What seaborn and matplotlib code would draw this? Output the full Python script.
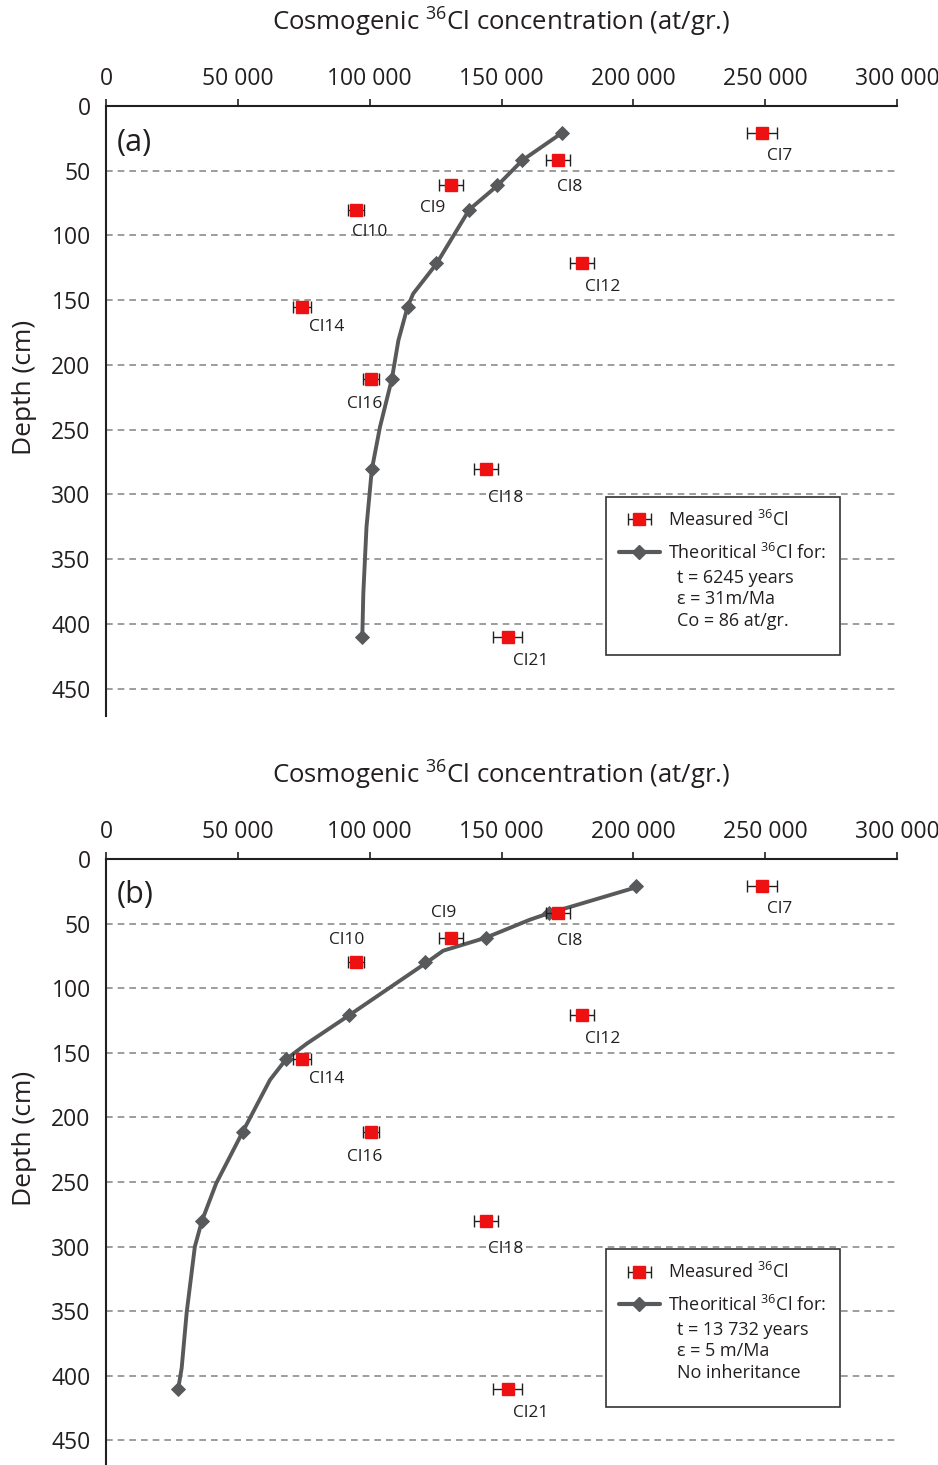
import matplotlib
matplotlib.use("Agg")
import matplotlib.pyplot as plt
import seaborn as sns
from matplotlib.lines import Line2D
from matplotlib.patches import Rectangle
from matplotlib.legend_handler import HandlerErrorbar

# Measured 36Cl samples (same in both panels)
samples = ['Cl7', 'Cl8', 'Cl9', 'Cl10', 'Cl12', 'Cl14', 'Cl16', 'Cl18', 'Cl21']
meas_depth = [21, 42, 61, 80, 121, 155, 211, 280, 410]
meas_conc = [248800, 171400, 130800, 94800, 180500, 74300, 100500, 144100, 152400]
meas_err = [5700, 4500, 4500, 3200, 4700, 3400, 2900, 4700, 5500]

# Theoretical values at sample depths (diamonds)
theo_a = [172800, 157900, 148200, 137800, 125300, 114400, 108400, 100800, 97200]
theo_b = [201000, 168000, 144000, 121000, 92200, 68300, 51900, 36400, 27300]

# Theoretical curves
curve_a_depth = [21, 42, 62, 80, 122, 145, 155, 181, 211, 248, 281, 325, 376, 410]
curve_a_conc = [172800, 157900, 148200, 137800, 125300, 116500, 114400, 110900,
                108400, 103900, 100800, 98800, 97600, 97200]
curve_b_depth = [22, 42, 47, 61, 71, 81, 121, 143, 155, 171, 211, 251, 280, 300,
                 351, 394, 411]
curve_b_conc = [201000, 168000, 160800, 144000, 127900, 121000, 92200, 76100,
                68300, 62200, 51900, 41800, 36400, 33700, 30600, 28700, 27300]

x_ticks = [0, 50000, 100000, 150000, 200000, 250000, 300000]
x_ticklabels = ['0', '50 000', '100 000', '150 000', '200 000', '250 000', '300 000']
y_ticks = [0, 50, 100, 150, 200, 250, 300, 350, 400, 450]

params_a = 't = 6245 years\nε = 31m/Ma\nCo = 86 at/gr.'
params_b = 't = 13 732 years\nε = 5 m/Ma\nNo inheritance'

# label offsets in pixels (dx, dy)
offs_a = [(18, -23), (12, -27), (-18, -23), (14, -22), (21, -24), (25, -20),
          (-6, -25), (20, -29), (23, -24)]
offs_b = [(18, -23), (12, -28), (-7, 25), (-9, 22), (21, -24), (25, -20),
          (-6, -25), (20, -28), (23, -24)]

sns.set_style("white")
plt.rcParams['font.family'] = ['Open Sans', 'DejaVu Sans']
plt.rcParams['mathtext.fontset'] = 'custom'
plt.rcParams['mathtext.rm'] = 'Open Sans'

txt = '#231f20'
gray = '#58595b'
red = '#ee1111'

fig = plt.figure(figsize=(9.38, 14.65), dpi=100)
ax_a = fig.add_axes([0.113, 0.5113, 0.8433, 0.4164])
ax_b = fig.add_axes([0.113, 0.0, 0.8433, 0.4137])

xlabel = r'Cosmogenic $\mathregular{^{36}}$Cl concentration (at/gr.)'

for ax, theo, cx, cy, offs, params, tag, ymax in [
        (ax_a, theo_a, curve_a_conc, curve_a_depth, offs_a, params_a, '(a)', 471),
        (ax_b, theo_b, curve_b_conc, curve_b_depth, offs_b, params_b, '(b)', 469)]:

    # theoretical curve
    sns.lineplot(x=cx, y=cy, sort=False, estimator=None, color=gray, lw=2.8,
                 ax=ax, zorder=3)
    sns.scatterplot(x=theo, y=meas_depth, marker='D', s=60, color=gray,
                    linewidth=0, ax=ax, zorder=4)

    # measured
    eb = ax.errorbar(meas_conc, meas_depth, xerr=meas_err, fmt='s', ms=8,
                     mfc=red, mec=red, ecolor=txt, elinewidth=1, capsize=4.3,
                     capthick=1, zorder=5)
    for name, xv, yv, (dx, dy) in zip(samples, meas_conc, meas_depth, offs):
        ax.annotate(name, (xv, yv), xytext=(dx, dy), textcoords='offset pixels',
                    ha='center', va='center', fontsize=12.5, color=txt, zorder=6)

    ax.set_xlim(0, 300000)
    ax.set_ylim(ymax, 0)
    ax.xaxis.tick_top()
    ax.xaxis.set_label_position('top')
    ax.set_xticks(x_ticks)
    ax.set_xticklabels(x_ticklabels)
    ax.set_yticks(y_ticks)
    ax.tick_params(axis='x', direction='out', length=5, width=1.2, pad=6,
                   labelsize=16.5, colors=txt)
    ax.tick_params(axis='y', direction='out', length=6, width=1.2, pad=5,
                   labelsize=16.5, colors=txt)
    ax.set_xlabel(xlabel, fontsize=18.5, color=txt, labelpad=26)
    ax.set_ylabel('Depth (cm)', fontsize=19, color=txt)
    ax.yaxis.set_label_coords(-0.087, 0.538)

    for s in ['right', 'bottom']:
        ax.spines[s].set_visible(False)
    for s in ['left', 'top']:
        ax.spines[s].set_color(txt)
        ax.spines[s].set_linewidth(1.5)

    ax.yaxis.grid(True, linestyle=(0, (4, 3)), color='#8c8c8c', lw=1.2)
    ax.xaxis.grid(False)
    ax.set_axisbelow(True)

    ax.text(0.014, 0.94, tag, transform=ax.transAxes, fontsize=22, color=txt,
            va='center', ha='left')

    # legend box
    box = Rectangle((189600, 302), 88700, 122, facecolor='white',
                    edgecolor='#333333', lw=1.2, zorder=7)
    ax.add_patch(box)
    line_handle = Line2D([], [], color=gray, lw=3, marker='D', ms=7)
    leg = ax.legend([eb, line_handle],
                    [r'Measured $\mathregular{^{36}}$Cl',
                     r'Theoritical $\mathregular{^{36}}$Cl for:'],
                    loc='upper left', bbox_to_anchor=(189600, 302),
                    bbox_transform=ax.transData, frameon=False, fontsize=13,
                    handlelength=2.3, handletextpad=0.45, labelspacing=0.7,
                    borderpad=0.7, borderaxespad=0, numpoints=1,
                    handler_map={type(eb): HandlerErrorbar(xerr_size=0.65)})
    leg.set_zorder(8)
    for t in leg.get_texts():
        t.set_color(txt)
    ax.text(216500, 381, params, fontsize=13, color=txt, ha='left',
            va='center', linespacing=1.25, zorder=9)

fig.savefig('out.png', dpi=100)
